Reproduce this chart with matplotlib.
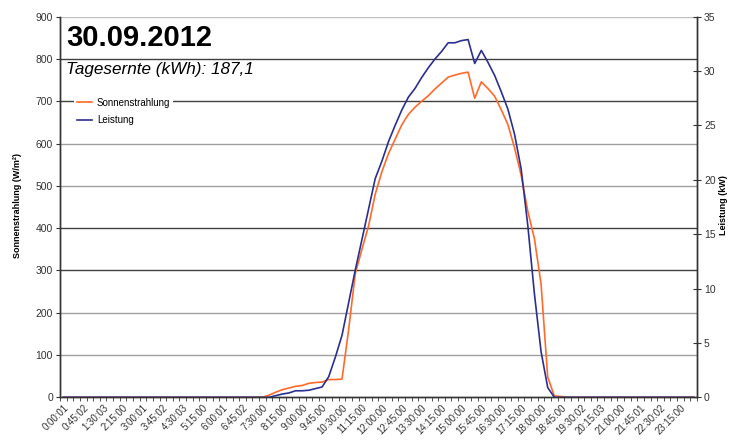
import matplotlib.pyplot as plt
from matplotlib.lines import Line2D

plt.rcParams['font.family'] = ['Liberation Sans', 'DejaVu Sans']

# 15-minute slots over the day (96 values)
tick_labels = ['0:00:01', '0:45:02', '1:30:03', '2:15:00', '3:00:01', '3:45:02', '4:30:03', '5:15:00',
               '6:00:01', '6:45:02', '7:30:00', '8:15:00', '9:00:00', '9:45:00', '10:30:00', '11:15:00',
               '12:00:00', '12:45:00', '13:30:00', '14:15:00', '15:00:00', '15:45:00', '16:30:00', '17:15:00',
               '18:00:00', '18:45:00', '19:30:02', '20:15:03', '21:00:00', '21:45:01', '22:30:02', '23:15:00']

# Sonnenstrahlung (W/m2)
strahlung = [0, 0, 0, 0, 0, 0, 0, 0, 0, 0, 0, 0,
             0, 0, 0, 0, 0, 0, 0, 0, 0, 0, 0, 0,
             0, 0, 0, 0, 0, 0, 0, 5, 12, 18, 22, 26,
             28, 33, 35, 36, 42, 42, 43, 160, 292, 350, 405, 480,
             533, 576, 610, 644, 669, 686, 700, 713, 729, 743, 757, 762,
             766, 769, 707, 746, 730, 712, 680, 645, 590, 525, 440, 375,
             268, 48, 3, 2, 0, 0, 0, 0, 0, 0, 0, 0,
             0, 0, 0, 0, 0, 0, 0, 0, 0, 0, 0, 0]

# Leistung (kW)
leistung = [0, 0, 0, 0, 0, 0, 0, 0, 0, 0, 0, 0,
            0, 0, 0, 0, 0, 0, 0, 0, 0, 0, 0, 0,
            0, 0, 0, 0, 0, 0, 0, 0, 0.15, 0.3, 0.4, 0.6,
            0.6, 0.65, 0.8, 0.95, 1.9, 3.7, 5.7, 8.7, 11.7, 14.5, 17.3, 20.1,
            21.7, 23.5, 25.0, 26.4, 27.6, 28.4, 29.4, 30.3, 31.1, 31.8, 32.6, 32.6,
            32.8, 32.9, 30.7, 31.9, 30.8, 29.6, 28.1, 26.5, 24.2, 21.0, 15.8, 9.5,
            4.2, 0.9, 0, 0, 0, 0, 0, 0, 0, 0, 0, 0,
            0, 0, 0, 0, 0, 0, 0, 0, 0, 0, 0, 0]

orange = '#FF6A2A'
blue = '#2B2F8F'
tc = '#333333'

fig = plt.figure(figsize=(7.4, 4.41), dpi=100)
ax = fig.add_axes([60 / 740, 1 - 397.3 / 441, 637 / 740, 380.6 / 441])
ax2 = ax.twinx()

x = list(range(len(strahlung)))

# gridlines (alternating shades as in the original export)
grid_cols = ['#a0a0a0', '#a0a0a0', '#404040', '#404040', '#a0a0a0', '#a0a0a0', '#404040', '#404040', '#c0c0c0']
for k, c in zip(range(100, 1000, 100), grid_cols):
    ax.axhline(k, color=c, lw=1, zorder=0)

ax.plot(x, strahlung, color=orange, lw=1.2, zorder=3)
ax2.plot(x, leistung, color=blue, lw=1.2, zorder=3)

ax.set_xlim(-0.5, 95.5)
ax.set_ylim(0, 900)
ax2.set_ylim(0, 35)

ax.set_yticks(range(0, 901, 100))
ax2.set_yticks(range(0, 36, 5))
ax.set_xticks(range(0, 96, 3))
ax.set_xticklabels(tick_labels, rotation=45, ha='right', va='top', rotation_mode='anchor')
ax.set_xticks([i - 0.5 for i in range(97)], minor=True)

ax.tick_params(axis='x', which='major', length=0, pad=4, labelsize=7, labelcolor=tc)
ax.tick_params(axis='x', which='minor', length=3, direction='out', color='#333333')
ax.tick_params(axis='y', length=3, direction='out', labelsize=7.5, labelcolor=tc, color='#333333', pad=2)
ax2.tick_params(axis='y', length=6, direction='inout', labelsize=7.5, labelcolor=tc, color='#333333', pad=2)

for a in (ax, ax2):
    a.spines['top'].set_visible(False)
    for s in ('left', 'right', 'bottom'):
        a.spines[s].set_color('#333333')
        a.spines[s].set_linewidth(1)

fig.text(18 / 740, 1 - 205 / 441, 'Sonnenstrahlung (W/m²)', rotation=90, ha='center', va='center',
         fontsize=6.5, fontweight='bold')
fig.text(723 / 740, 1 - 205 / 441, 'Leistung (kW)', rotation=90, ha='center', va='center',
         fontsize=6.5, fontweight='bold')

fig.text(66.5 / 740, 1 - 45.7 / 441, '30.09.2012', fontsize=21, fontweight='bold', va='baseline')
fig.text(66 / 740, 1 - 74 / 441, 'Tagesernte (kWh): 187,1', fontsize=12.3, style='italic', va='baseline')

handles = [Line2D([], [], color=orange, lw=1.2), Line2D([], [], color=blue, lw=1.2)]
leg = ax2.legend(handles, ['Sonnenstrahlung', 'Leistung'], loc='upper left',
                 bbox_to_anchor=(0.022, 0.795), fontsize=7, frameon=True, framealpha=1,
                 edgecolor='none', facecolor='white', handlelength=1.55, handletextpad=0.5,
                 labelspacing=0.75, borderpad=0.3, borderaxespad=0)
leg.set_zorder(5)

fig.savefig('out.png', dpi=100)
